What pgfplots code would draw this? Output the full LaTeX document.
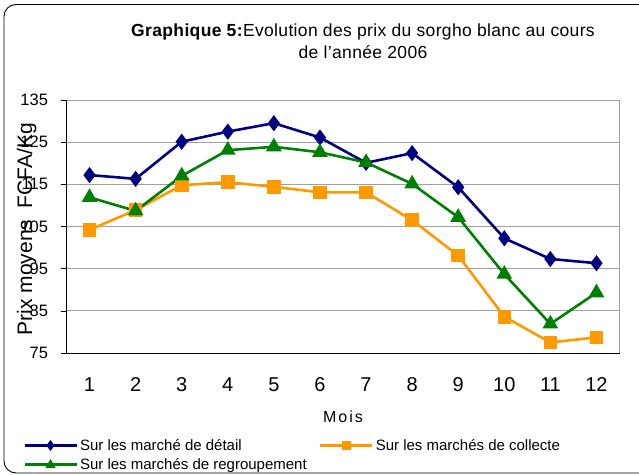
\documentclass[border=0pt]{standalone}
\usepackage{fontspec}
\setmainfont{Liberation Sans}
\usepackage{pgfplots}
\pgfplotsset{compat=1.18}
\definecolor{cblue}{HTML}{000080}
\definecolor{corange}{HTML}{FF9900}
\definecolor{cgreen}{HTML}{008000}
\definecolor{cgrid}{HTML}{A0A0A0}

\begin{document}
\begin{tikzpicture}[x=1bp,y=1bp]
\path[use as bounding box] (-66.5,-122) rectangle (572.5,353);
\draw[black, line width=0.9bp, rounded corners=12bp] (-62.5,-120) rectangle (585,348.5);
\node[align=center, font=\fontsize{17.5bp}{22bp}\selectfont\addfontfeature{LetterSpace=2}] at (296.5,312)
  {\textbf{Graphique 5:}Evolution des prix du sorgho blanc au cours\\de l'année 2006};
\begin{axis}[
  at={(0,0)}, anchor=south west,
  scale only axis, width=553bp, height=253bp,
  xmin=0.5, xmax=12.5, ymin=75, ymax=135,
  axis x line*=bottom, axis y line*=left,
  axis line style={black, line width=0.8bp},
  xtick={1,...,12},
  minor xtick={0.5,1.5,...,12.5},
  ytick={75,85,...,135},
  tick align=outside,
  major tick length=6bp, minor tick length=6bp,
  xtick style={draw=none},
  minor x tick style={black, line width=0.6bp},
  ytick style={black, line width=0.6bp},
  ymajorgrids, grid style={cgrid, line width=0.8bp},
  /pgf/number format/assume math mode=true,
  yticklabel style={font=\fontsize{16.5bp}{18bp}\selectfont, xshift=-9bp},
  xticklabel style={font=\fontsize{20bp}{22bp}\selectfont, yshift=-15bp},
  xlabel={Mois},
  xlabel style={font=\fontsize{16bp}{18bp}\selectfont\addfontfeature{LetterSpace=12}, yshift=-12bp},
  ylabel={Prix moyens\ \ FCFA/Kg},
  ylabel style={font=\fontsize{21bp}{24bp}\selectfont, at={(axis description cs:-0.072,0.49)}, anchor=center},
  clip=false,
  legend columns=2,
  legend cell align=left,
  legend style={draw=none, fill=none, inner sep=0pt, at={(axis description cs:-0.079,-0.332)}, anchor=north west,
    font=\fontsize{15bp}{17bp}\selectfont, row sep=3bp,
    /tikz/column 2/.style={column sep=10bp}},
  legend image code/.code={\draw[#1, line width=3bp, mark repeat=2, mark phase=2, mark size=3bp] plot coordinates {(0bp,0bp)(26bp,0bp)(52bp,0bp)};},
]
\draw[cgrid, line width=0.8bp] (rel axis cs:1,0) -- (rel axis cs:1,1);
\addplot[cblue, line width=2.6bp, mark=diamond*, mark size=6bp, mark options={solid}] coordinates {
(1,117.2)(2,116.3)(3,125.1)(4,127.5)(5,129.5)(6,126.1)(7,120.1)(8,122.4)(9,114.3)(10,102.2)(11,97.3)(12,96.3)};
\addlegendentry{Sur les marché de détail}
\addplot[corange, line width=2.6bp, mark=square*, mark size=5.5bp] coordinates {
(1,104.2)(2,108.9)(3,114.8)(4,115.5)(5,114.4)(6,113.1)(7,113.1)(8,106.5)(9,98.1)(10,83.6)(11,77.5)(12,78.7)};
\addlegendentry{Sur les marchés de collecte}
\addplot[cgreen, line width=2.6bp, mark=triangle*, mark size=6.5bp] coordinates {
(1,111.9)(2,108.7)(3,117.0)(4,123.1)(5,123.9)(6,122.6)(7,120.2)(8,115.1)(9,107.2)(10,93.7)(11,81.9)(12,89.3)};
\addlegendentry{Sur les marchés de regroupement}
\end{axis}
\end{tikzpicture}
\end{document}
